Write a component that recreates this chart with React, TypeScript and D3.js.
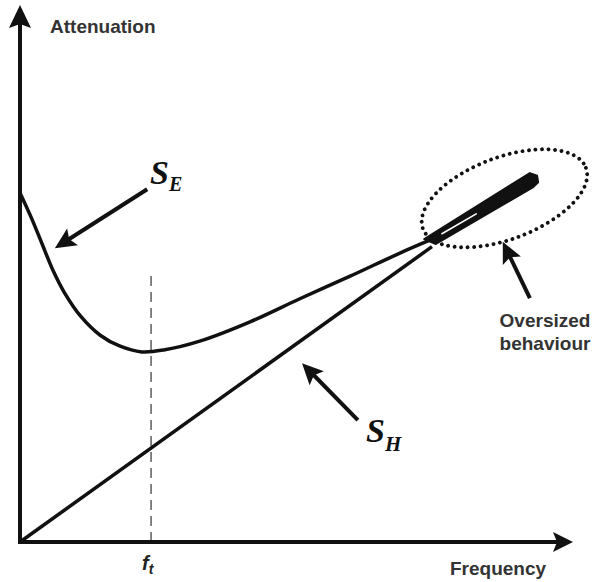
import React from "react";
import * as d3 from "d3";

const W = 597;
const H = 582;

// Frequency (0–100) and attenuation (0–100) in arbitrary units
const seFreq = [0, 2, 4, 6, 8, 11, 14.5, 18, 22, 26.2, 32.5, 41.6, 50.6, 59.7, 68.7, 74.1];
const seAtten = [65, 60.5, 55.5, 50.5, 46.5, 42, 38.5, 36.5, 35.4, 35.8, 37.4, 41.0, 45.3, 49.5, 53.8, 56.2];

const shFreq = [0, 74.5];
const shAtten = [0, 55];

// Oversized region where the two responses merge into a thick spike
const wedgeFreq = [73.1, 92.2, 93.5, 93.7, 92.8, 75.2];
const wedgeAtten = [56.4, 68.7, 68.2, 67.0, 66.1, 55.5];
const slitFreq = [76.3, 82.5];
const slitAtten = [57.4, 61.1];

const ftFreq = 23.7;
const ftTop = 50.6;

// Annotation arrows: [tailF, tailA, tipF, tipA]
const arrowSE = [23.0, 65.7, 6.3, 54.7];
const arrowSH = [61.1, 22.7, 51.0, 33.3];
const arrowOver = [92.2, 45.4, 87.3, 55.9];

const ellipseCenter = [87.6, 64.0];

const x = d3.scaleLinear().domain([0, 100]).range([20, 573]);
const y = d3.scaleLinear().domain([0, 100]).range([542, 5]);

function head(tx: number, ty: number, fx: number, fy: number, len: number, half: number, notch: number) {
  const dx = tx - fx;
  const dy = ty - fy;
  const d = Math.hypot(dx, dy);
  const ux = dx / d;
  const uy = dy / d;
  const px = -uy;
  const py = ux;
  const bx = tx - ux * len;
  const by = ty - uy * len;
  const pts = [
    [tx, ty],
    [bx + px * half, by + py * half],
    [tx - ux * (len - notch), ty - uy * (len - notch)],
    [bx - px * half, by - py * half],
  ];
  return pts.map((p) => p.join(",")).join(" ");
}

function Arrow({ a }: { a: number[] }) {
  const x1 = x(a[0]);
  const y1 = y(a[1]);
  const x2 = x(a[2]);
  const y2 = y(a[3]);
  const d = Math.hypot(x2 - x1, y2 - y1);
  const ex = x2 - ((x2 - x1) / d) * 12;
  const ey = y2 - ((y2 - y1) / d) * 12;
  return (
    <g>
      <line x1={x1} y1={y1} x2={ex} y2={ey} stroke="#111" strokeWidth={4} />
      <polygon points={head(x2, y2, x1, y1, 21, 10, 4)} fill="#111" />
    </g>
  );
}

export default function App() {
  const seLine = d3
    .line<number>()
    .x((_, i) => x(seFreq[i]))
    .y((_, i) => y(seAtten[i]))
    .curve(d3.curveCatmullRom.alpha(0.5));
  const shLine = d3
    .line<number>()
    .x((_, i) => x(shFreq[i]))
    .y((_, i) => y(shAtten[i]));
  const wedge = wedgeFreq.map((f, i) => `${x(f)},${y(wedgeAtten[i])}`).join(" ");

  const labelFont = "'Liberation Sans', Arial, Helvetica, sans-serif";
  const serif = "'Liberation Serif', 'Times New Roman', serif";

  return (
    <svg
      width={W}
      height={H}
      style={{ position: "absolute", left: 0, top: 0, background: "#fff" }}
    >
      {/* f_t marker */}
      <line
        x1={x(ftFreq)}
        x2={x(ftFreq)}
        y1={y(0)}
        y2={y(ftTop)}
        stroke="#444"
        strokeWidth={1.3}
        strokeDasharray="10 6"
      />

      {/* Axes */}
      <line x1={x(0)} y1={y(0) + 2} x2={x(0)} y2={y(100) + 14} stroke="#111" strokeWidth={4} />
      <polygon points={head(x(0), y(100), x(0), y(0), 23, 11, 4)} fill="#111" />
      <line x1={x(0) - 2} y1={y(0)} x2={x(100) - 14} y2={y(0)} stroke="#111" strokeWidth={4} />
      <polygon points={head(x(100), y(0), x(0), y(0), 20, 10, 4)} fill="#111" />

      {/* Responses */}
      <path d={shLine(shFreq) || ""} fill="none" stroke="#111" strokeWidth={3.5} />
      <path d={seLine(seFreq) || ""} fill="none" stroke="#111" strokeWidth={3.5} />
      <polygon points={wedge} fill="#111" stroke="#111" strokeWidth={2} strokeLinejoin="round" />
      <line
        x1={x(slitFreq[0])}
        y1={y(slitAtten[0])}
        x2={x(slitFreq[1])}
        y2={y(slitAtten[1])}
        stroke="#fff"
        strokeWidth={1.6}
        strokeLinecap="round"
      />

      {/* Oversized region outline */}
      <ellipse
        cx={x(ellipseCenter[0])}
        cy={y(ellipseCenter[1])}
        rx={87}
        ry={41}
        transform={`rotate(-20.5 ${x(ellipseCenter[0])} ${y(ellipseCenter[1])})`}
        fill="none"
        stroke="#111"
        strokeWidth={3.8}
        strokeLinecap="round"
        strokeDasharray="0 6.5"
      />

      {/* Annotation arrows */}
      <Arrow a={arrowSE} />
      <Arrow a={arrowSH} />
      <Arrow a={arrowOver} />

      {/* Labels */}
      <text x={50} y={33} fontFamily={labelFont} fontWeight="bold" fontSize={19} fill="#333">
        Attenuation
      </text>
      <text x={450} y={575} fontFamily={labelFont} fontWeight="bold" fontSize={19} fill="#333">
        Frequency
      </text>
      <text fontFamily={labelFont} fontWeight="bold" fontSize={19} fill="#333" textAnchor="middle">
        <tspan x={545} y={327}>Oversized</tspan>
        <tspan x={545} y={350}>behaviour</tspan>
      </text>
      <text x={142} y={570} fontFamily={labelFont} fontWeight="bold" fontStyle="italic" fontSize={20} fill="#222">
        f
        <tspan fontSize={14} dy={4}>t</tspan>
      </text>
      <text x={150} y={184} fontFamily={serif} fontStyle="italic" fontWeight="bold" fontSize={34} fill="#111">
        S
        <tspan fontSize={20} dy={7}>E</tspan>
      </text>
      <text x={366} y={442} fontFamily={serif} fontStyle="italic" fontWeight="bold" fontSize={34} fill="#111">
        S
        <tspan fontSize={21} dy={9}>H</tspan>
      </text>
    </svg>
  );
}
